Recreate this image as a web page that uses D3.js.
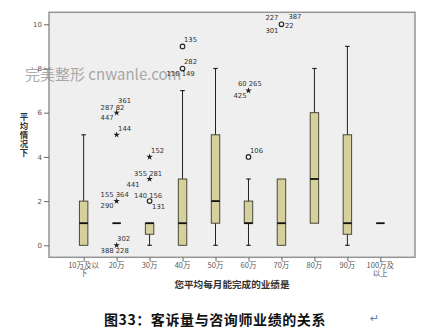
<!DOCTYPE html>
<html>
<head>
<meta charset="utf-8">
<script src="https://cdn.jsdelivr.net/npm/d3@7"></script>
<style>
  body { margin: 0; background: #fff; }
  svg { display: block; }
</style>
</head>
<body>
<svg id="chart"></svg>
<script>
const width = 422;
const height = 332;

// categories (x axis) and box statistics
const categories = ["10万及以下", "20万", "30万", "40万", "50万", "60万", "70万", "80万", "90万", "100万及以上"];
const tickLabels = [["10万及以", "下"], ["20万"], ["30万"], ["40万"], ["50万"], ["60万"], ["70万"], ["80万"], ["90万"], ["100万及", "以上"]];
const whiskerLow  = [0, 1, 0,   0, 0, 0, 0, 1, 0,   1];
const q1          = [0, 1, 0.5, 0, 1, 1, 0, 1, 0.5, 1];
const median      = [1, 1, 1,   1, 2, 1, 1, 3, 1,   1];
const q3          = [2, 1, 1,   3, 5, 2, 3, 6, 5,   1];
const whiskerHigh = [5, 1, 1,   7, 8, 3, 3, 8, 9,   1];
const yTicks = [0, 2, 4, 6, 8, 10];

// outliers: category, value, marker kind, case labels
const outlierCat    = ["20万", "20万", "20万", "20万", "30万", "30万", "30万", "40万", "40万", "60万", "60万", "70万"];
const outlierValue  = [6, 5, 2, 0, 4, 3, 2, 9, 8, 7, 4, 10];
const outlierKind   = ["star", "star", "star", "star", "star", "star", "circle", "circle", "circle", "star", "circle", "circle"];
const outlierLabels = [
  ["361", "287 82", "447"],
  ["144"],
  ["155 364", "290"],
  ["302", "388 228"],
  ["152"],
  ["355 281", "441"],
  ["140 156", "131"],
  ["135"],
  ["282", "116 149"],
  ["60 265", "425"],
  ["106"],
  ["227", "387", "22", "301"]
];
// where each case label sits around its marker (px)
const labelOffsets = [
  [[1.5, -12.5], [-16, -5], [-16, 5]],
  [[1.5, -6.5]],
  [[-16, -6], [-16, 5]],
  [[0.5, -6.5], [-16, 5.5]],
  [[1.5, -6]],
  [[-15.5, -5.5], [-23, 5.5]],
  [[-15.5, -5], [2.5, 5.5]],
  [[1.5, -6.5]],
  [[1.5, -6.5], [-16, 5]],
  [[-10.5, -6.5], [-15, 5.5]],
  [[1.5, -6]],
  [[-16, -6.5], [7, -7.5], [3.5, 1], [-16, 6]]
];

const svg = d3.select("svg#chart")
  .attr("width", width)
  .attr("height", height);

const plot = { left: 49, right: 415, top: 12.3, bottom: 257.3 };

const x = d3.scalePoint()
  .domain(categories)
  .range([50, 414])
  .padding(1.02);

const y = d3.scaleLinear()
  .domain([-0.543, 10.543])
  .range([plot.bottom, plot.top]);

// plot background
svg.append("rect")
  .attr("x", plot.left)
  .attr("y", plot.top)
  .attr("width", plot.right - plot.left)
  .attr("height", plot.bottom - plot.top)
  .attr("fill", "#efefef")
  .attr("stroke", "#959595")
  .attr("stroke-width", 1.5);

// watermark
svg.append("text")
  .attr("x", 25)
  .attr("y", 80)
  .attr("font-family", "Noto Sans CJK SC, Noto Sans, sans-serif")
  .attr("font-size", 15)
  .attr("fill", "#8f8f8f")
  .attr("opacity", 0.75)
  .text("完美整形 cnwanle.com");

// y axis
const yAxis = svg.append("g")
  .attr("transform", "translate(" + plot.left + ",0)")
  .call(d3.axisLeft(y).tickValues(yTicks).tickSize(5).tickPadding(2));
yAxis.select(".domain").remove();
yAxis.selectAll("line").attr("stroke", "#666");
yAxis.selectAll("text")
  .attr("font-family", "DejaVu Sans, sans-serif")
  .attr("font-size", 7)
  .attr("fill", "#555");

// x axis
const xAxis = svg.append("g")
  .attr("transform", "translate(0," + plot.bottom + ")")
  .call(d3.axisBottom(x).tickSize(4).tickFormat(""));
xAxis.select(".domain").remove();
xAxis.selectAll("line").attr("stroke", "#666");

svg.append("g").selectAll("text")
  .data(categories)
  .join("text")
  .attr("x", d => x(d))
  .attr("y", plot.bottom + 11)
  .attr("text-anchor", "middle")
  .attr("font-family", "Noto Sans CJK SC, sans-serif")
  .attr("font-size", 7.5)
  .attr("fill", "#555")
  .each(function(d, i) {
    const t = d3.select(this);
    tickLabels[i].forEach((line, k) => {
      t.append("tspan")
        .attr("x", x(d))
        .attr("dy", k == 0 ? 0 : 7.5)
        .text(line);
    });
  });

// axis titles
svg.append("text")
  .attr("x", 232)
  .attr("y", 288)
  .attr("text-anchor", "middle")
  .attr("font-family", "Noto Sans CJK SC, sans-serif")
  .attr("font-weight", "bold")
  .attr("font-size", 9.6)
  .attr("fill", "#333")
  .text("您平均每月能完成的业绩是");

// vertical title, one character per line
svg.append("g").selectAll("text")
  .data(Array.from("平均情况下"))
  .join("text")
  .attr("x", 24)
  .attr("y", (d, k) => 119.5 + k * 9)
  .attr("text-anchor", "middle")
  .attr("font-family", "Noto Sans CJK SC, sans-serif")
  .attr("font-weight", "bold")
  .attr("font-size", 8.4)
  .attr("fill", "#333")
  .text(d => d);

// boxes
const boxW = 8.5;
const capW = 4.4;
const boxes = svg.append("g").attr("id", "boxes");
categories.forEach((c, i) => {
  const cx = x(c);
  const g = boxes.append("g");
  if (whiskerHigh[i] > q3[i]) {
    g.append("line")
      .attr("x1", cx).attr("x2", cx)
      .attr("y1", y(q3[i])).attr("y2", y(whiskerHigh[i]))
      .attr("stroke", "#222").attr("stroke-width", 1);
    g.append("line")
      .attr("x1", cx - capW / 2).attr("x2", cx + capW / 2)
      .attr("y1", y(whiskerHigh[i])).attr("y2", y(whiskerHigh[i]))
      .attr("stroke", "#222").attr("stroke-width", 1.2);
  }
  if (whiskerLow[i] < q1[i]) {
    g.append("line")
      .attr("x1", cx).attr("x2", cx)
      .attr("y1", y(q1[i])).attr("y2", y(whiskerLow[i]))
      .attr("stroke", "#222").attr("stroke-width", 1);
    g.append("line")
      .attr("x1", cx - capW / 2).attr("x2", cx + capW / 2)
      .attr("y1", y(whiskerLow[i])).attr("y2", y(whiskerLow[i]))
      .attr("stroke", "#222").attr("stroke-width", 1.2);
  }
  if (q3[i] > q1[i]) {
    g.append("rect")
      .attr("x", cx - boxW / 2)
      .attr("y", y(q3[i]))
      .attr("width", boxW)
      .attr("height", y(q1[i]) - y(q3[i]))
      .attr("fill", "#d5d09c")
      .attr("stroke", "#3a3a2a")
      .attr("stroke-width", 0.9);
  }
  g.append("line")
    .attr("x1", cx - boxW / 2).attr("x2", cx + boxW / 2)
    .attr("y1", y(median[i])).attr("y2", y(median[i]))
    .attr("stroke", "#111").attr("stroke-width", 1.8);
});

// outliers
const star = d3.symbol().type(d3.symbolStar).size(13);
const outG = svg.append("g").attr("id", "outliers");
outlierCat.forEach((c, i) => {
  const px = x(c);
  const py = y(outlierValue[i]);
  if (outlierKind[i] == "star") {
    outG.append("path")
      .attr("d", star())
      .attr("transform", "translate(" + px + "," + py + ")")
      .attr("fill", "#222");
  } else {
    outG.append("circle")
      .attr("cx", px).attr("cy", py).attr("r", 2.3)
      .attr("fill", "none")
      .attr("stroke", "#222")
      .attr("stroke-width", 1.1);
  }
  outlierLabels[i].forEach((lab, k) => {
    outG.append("text")
      .attr("x", px + labelOffsets[i][k][0])
      .attr("y", py + labelOffsets[i][k][1])
      .attr("dy", "0.35em")
      .attr("font-family", "DejaVu Sans, sans-serif")
      .attr("font-size", 6.8)
      .attr("fill", "#333")
      .text(lab);
  });
});

// caption
svg.append("text")
  .attr("x", 215)
  .attr("y", 325)
  .attr("text-anchor", "middle")
  .attr("font-family", "Noto Sans CJK SC, sans-serif")
  .attr("font-weight", "bold")
  .attr("font-size", 14)
  .attr("letter-spacing", 0.6)
  .attr("fill", "#111")
  .text("图33：客诉量与咨询师业绩的关系");

svg.append("text")
  .attr("x", 370)
  .attr("y", 322)
  .attr("font-family", "DejaVu Sans, sans-serif")
  .attr("font-size", 11)
  .attr("fill", "#5b7fb0")
  .text("↵");
</script>
</body>
</html>
